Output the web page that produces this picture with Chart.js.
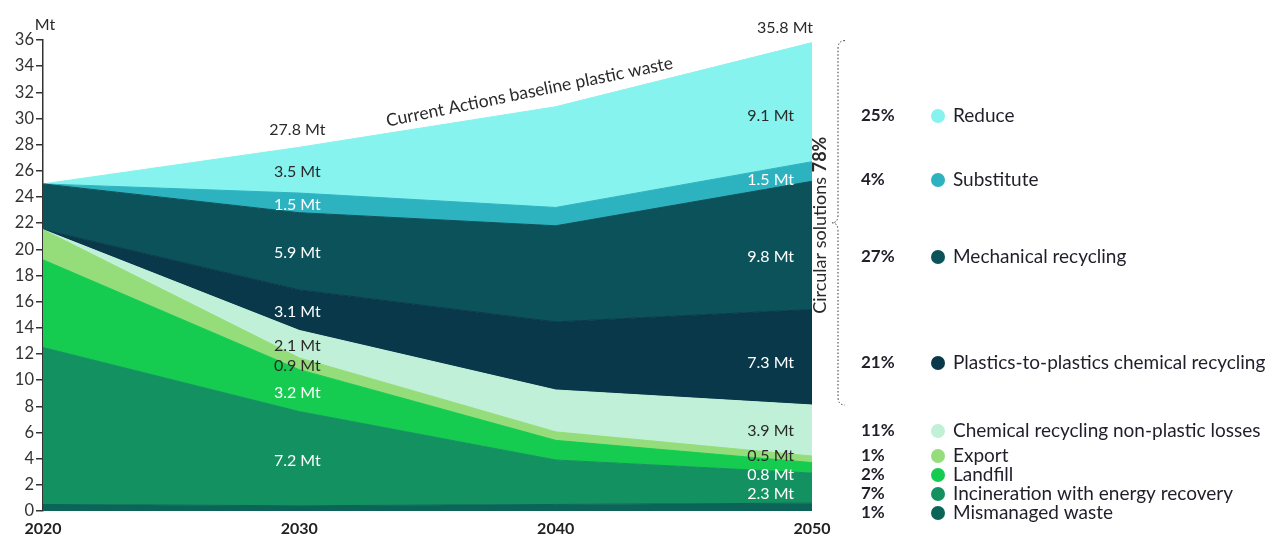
<!DOCTYPE html>
<html>
<head>
<meta charset="utf-8">
<script src="https://cdn.jsdelivr.net/npm/chart.js@4.4.1/dist/chart.umd.min.js"></script>
<style>
  html, body { margin: 0; padding: 0; background: #fff; }
</style>
</head>
<body>
<canvas id="chart" width="1270" height="535"></canvas>
<script>
// years on the x axis
const years = ['2020', '2030', '2040', '2050'];

// Mt per pathway, bottom of the stack first
const mismanaged   = [0.5, 0.4, 0.5, 0.6];
const incineration = [12.0, 7.2, 3.4, 2.3];
const landfill     = [6.7, 3.2, 1.5, 0.8];
const exported     = [2.3, 0.9, 0.65, 0.5];
const chemLosses   = [0, 2.1, 3.2, 3.9];
const plasticsToPlastics = [0, 3.1, 5.2, 7.3];
const mechanical   = [3.5, 5.9, 7.35, 9.8];
const substitute   = [0, 1.5, 1.4, 1.5];
const reduce       = [0, 3.5, 7.7, 9.1];

const seriesNames = [
  'Mismanaged waste',
  'Incineration with energy recovery',
  'Landfill',
  'Export',
  'Chemical recycling non-plastic losses',
  'Plastics-to-plastics chemical recycling',
  'Mechanical recycling',
  'Substitute',
  'Reduce'
];
// share of 2050 waste, same order as seriesNames
const shares2050 = ['1%', '7%', '2%', '1%', '11%', '21%', '27%', '4%', '25%'];

const yTickMax = 36;
const yTickStep = 2;

const series = [mismanaged, incineration, landfill, exported, chemLosses,
  plasticsToPlastics, mechanical, substitute, reduce];
const colors = ['#0c6459', '#139160', '#15cc50', '#94dd7a', '#c0f0d8',
  '#083849', '#0c525a', '#2db3c0', '#86f3ef'];
// text colour used for the value labels sitting on each layer
const labelInk = ['#fff', '#fff', '#fff', '#2a2a2a', '#2a2a2a',
  '#fff', '#fff', '#fff', '#2a2a2a'];
// legend row centres (px), bottom series first
const legendRowY = [513, 494, 475, 456, 431, 363, 257, 180, 116];

const FONT = 'Lato, "Open Sans", sans-serif';

const datasets = series.map((d, i) => ({
  label: seriesNames[i],
  data: d,
  backgroundColor: colors[i],
  borderColor: colors[i],
  borderWidth: 1,
  pointRadius: 0,
  tension: 0,
  fill: i === 0 ? 'origin' : '-1'
}));

function stackTop(col, upto) {
  let s = 0;
  for (let i = 0; i <= upto; i++) s += series[i][col];
  return s;
}

const annotations = {
  id: 'annotations',
  afterDatasetsDraw(chart) {
    const ctx = chart.ctx;
    const x = chart.scales.x, y = chart.scales.y;
    const area = chart.chartArea;
    ctx.save();
    ctx.font = '16px ' + FONT;
    ctx.textBaseline = 'middle';

    // value labels at 2030 (centred) and 2050 (right aligned)
    for (let i = 1; i < series.length; i++) {
      const base30 = stackTop(1, i - 1), top30 = stackTop(1, i);
      ctx.fillStyle = labelInk[i];
      ctx.textAlign = 'center';
      ctx.fillText(series[i][1].toFixed(1) + ' Mt', x.getPixelForValue(1) - 2,
        y.getPixelForValue((base30 + top30) / 2) + 2);
      ctx.textAlign = 'right';
      ctx.fillText(series[i][3].toFixed(1) + ' Mt', x.getPixelForValue(3) - 18, legendRowY[i]);
    }

    // totals
    const last = series.length - 1;
    ctx.fillStyle = '#2a2a2a';
    ctx.textAlign = 'center';
    ctx.fillText(stackTop(1, last).toFixed(1) + ' Mt', x.getPixelForValue(1) - 2,
      y.getPixelForValue(stackTop(1, last)) - 17);
    ctx.fillText(stackTop(3, last).toFixed(1) + ' Mt', x.getPixelForValue(3) - 27,
      y.getPixelForValue(stackTop(3, last)) - 15);

    // baseline caption along the top edge
    const cx = (x.getPixelForValue(1) + x.getPixelForValue(2)) / 2 + 102;
    ctx.save();
    ctx.translate(cx, 92);
    ctx.rotate(-11.5 * Math.PI / 180);
    ctx.textAlign = 'center';
    ctx.font = '17.5px ' + FONT;
    ctx.fillText('Current Actions baseline plastic waste', 0, 0);
    ctx.restore();

    // unit
    ctx.textAlign = 'center';
    ctx.font = '16px ' + FONT;
    ctx.fillText('Mt', area.left + 2, area.top - 15);

    // brace round the circular solutions
    const bTop = y.getPixelForValue(stackTop(3, last)) - 2;
    const bBot = y.getPixelForValue(stackTop(3, 4));
    const bMid = (bTop + bBot) / 2;
    const bx = 838;
    ctx.strokeStyle = '#333';
    ctx.lineWidth = 1;
    ctx.setLineDash([1.5, 2]);
    ctx.beginPath();
    ctx.moveTo(bx + 7, bTop);
    ctx.quadraticCurveTo(bx, bTop, bx, bTop + 8);
    ctx.lineTo(bx, bMid - 8);
    ctx.quadraticCurveTo(bx, bMid, bx - 6, bMid);
    ctx.quadraticCurveTo(bx, bMid, bx, bMid + 8);
    ctx.lineTo(bx, bBot - 8);
    ctx.quadraticCurveTo(bx, bBot, bx + 7, bBot);
    ctx.stroke();
    ctx.setLineDash([]);

    ctx.save();
    ctx.translate(820, bMid + 91);
    ctx.rotate(-Math.PI / 2);
    ctx.textAlign = 'left';
    ctx.fillStyle = '#2a2a2a';
    const part = 'Circular solutions ';
    ctx.font = '18px ' + FONT;
    ctx.fillText(part, 0, 0);
    const w = ctx.measureText(part).width;
    ctx.font = 'bold 18px ' + FONT;
    ctx.fillText('78%', w, 0);
    ctx.restore();

    // legend
    for (let i = 0; i < series.length; i++) {
      const ry = legendRowY[i];
      ctx.fillStyle = '#1f1f2a';
      ctx.textAlign = 'left';
      ctx.font = 'bold 17px ' + FONT;
      ctx.fillText(shares2050[i], 861, ry);
      ctx.fillStyle = colors[i];
      ctx.beginPath();
      ctx.arc(938, ry, 7, 0, Math.PI * 2);
      ctx.fill();
      ctx.fillStyle = '#1f1f2a';
      ctx.font = '19px ' + FONT;
      ctx.fillText(seriesNames[i], 953, ry);
    }
    ctx.restore();
  }
};

new Chart(document.getElementById('chart'), {
  type: 'line',
  data: { labels: years, datasets: datasets },
  options: {
    responsive: false,
    devicePixelRatio: 1,
    animation: false,
    layout: { padding: { left: 0, right: 458, top: 40, bottom: 0 } },
    plugins: { legend: { display: false }, tooltip: { enabled: false } },
    scales: {
      x: {
        offset: false,
        grid: { display: false, drawTicks: false },
        border: { display: false },
        ticks: { color: '#222', font: { family: FONT, size: 16, weight: 'bold' }, maxRotation: 0, padding: 8 },
        afterFit(s) { s.height = 24; }
      },
      y: {
        stacked: true,
        min: 0,
        max: yTickMax,
        ticks: { stepSize: yTickStep, color: '#333', font: { family: FONT, size: 16.5 }, padding: 2 },
        grid: { drawOnChartArea: false, drawTicks: true, tickLength: 7, color: '#333', lineWidth: 1.5 },
        border: { display: true, color: '#333', width: 1.5 },
        afterFit(s) { s.width = 43; }
      }
    }
  },
  plugins: [annotations]
});
</script>
</body>
</html>
